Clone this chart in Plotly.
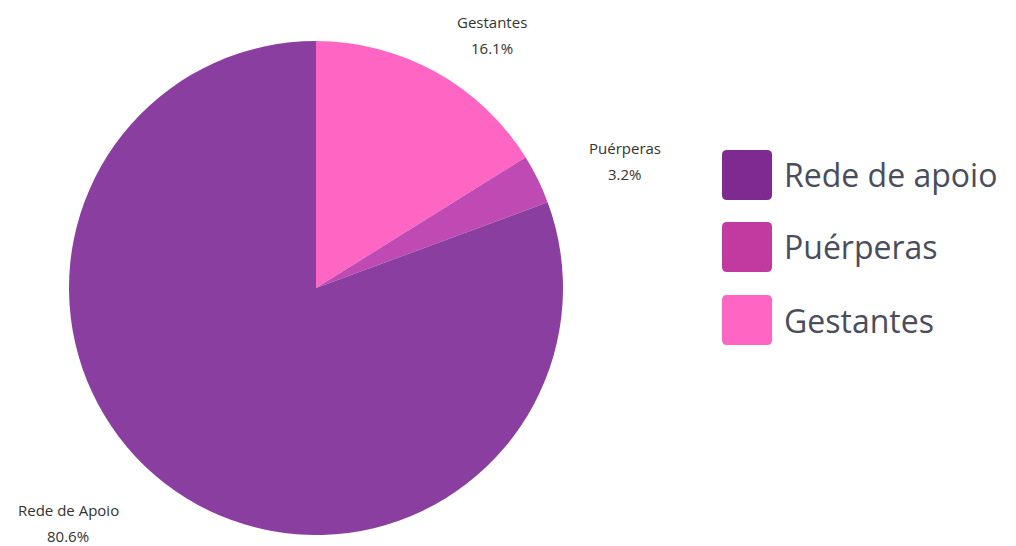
import plotly.graph_objects as go

# Data
categories = ["Gestantes", "Puérperas", "Rede de Apoio"]
counts = [5, 1, 25]
slice_colors = ["#FF66C4", "#BF4AB4", "#8A3FA0"]

legend_labels = ["Rede de apoio", "Puérperas", "Gestantes"]
legend_colors = ["#7E2A91", "#C23A9F", "#FF66C4"]

W, H = 1016, 546
FONT = "Open Sans"

total = sum(counts)
pcts = [c / total * 100 for c in counts]

fig = go.Figure(
    go.Pie(
        labels=categories,
        values=counts,
        marker=dict(colors=slice_colors, line=dict(width=0)),
        sort=False,
        direction="clockwise",
        rotation=0,
        textinfo="none",
        hoverinfo="label+percent",
        showlegend=False,
        domain=dict(x=[69 / W, 563 / W], y=[11 / H, 505 / H]),
    )
)

# Slice labels: name on one line, share below it
label_pos = {
    "Gestantes": (492, 35),
    "Puérperas": (625, 161),
    "Rede de Apoio": (68, 523),
}
annotations = []
for name, p in zip(categories, pcts):
    x, y = label_pos[name]
    for txt, dy in ((name, -13), (f"{p:.1f}%", 13)):
        annotations.append(
            dict(
                x=x / W, y=1 - (y + dy) / H, xref="paper", yref="paper",
                text=txt, showarrow=False,
                font=dict(family=FONT, size=15, color="#333333"),
                xanchor="center", yanchor="middle",
            )
        )

# Custom legend: rounded swatches + text
shapes = []
def rounded_rect(x0, y0, x1, y1, r):
    # pixel coordinates -> paper path
    def px(x):
        return x / W
    def py(y):
        return 1 - y / H
    return (
        f"M {px(x0 + r)},{py(y0)} L {px(x1 - r)},{py(y0)} "
        f"Q {px(x1)},{py(y0)} {px(x1)},{py(y0 + r)} "
        f"L {px(x1)},{py(y1 - r)} Q {px(x1)},{py(y1)} {px(x1 - r)},{py(y1)} "
        f"L {px(x0 + r)},{py(y1)} Q {px(x0)},{py(y1)} {px(x0)},{py(y1 - r)} "
        f"L {px(x0)},{py(y0 + r)} Q {px(x0)},{py(y0)} {px(x0 + r)},{py(y0)} Z"
    )

legend_y = [175, 247, 320]
for lab, col, yc in zip(legend_labels, legend_colors, legend_y):
    shapes.append(
        dict(
            type="path", xref="paper", yref="paper",
            path=rounded_rect(722, yc - 25, 772, yc + 25, 5),
            fillcolor=col, line=dict(width=0),
        )
    )
    annotations.append(
        dict(
            x=782 / W, y=1 - yc / H, xref="paper", yref="paper",
            text=lab, showarrow=False,
            font=dict(family=FONT, size=32, color="#4A4D5C"),
            xanchor="left", yanchor="middle",
        )
    )

fig.update_layout(
    width=W, height=H,
    margin=dict(l=0, r=0, t=0, b=0),
    paper_bgcolor="white",
    plot_bgcolor="white",
    annotations=annotations,
    shapes=shapes,
)

fig.write_html("out.html")
